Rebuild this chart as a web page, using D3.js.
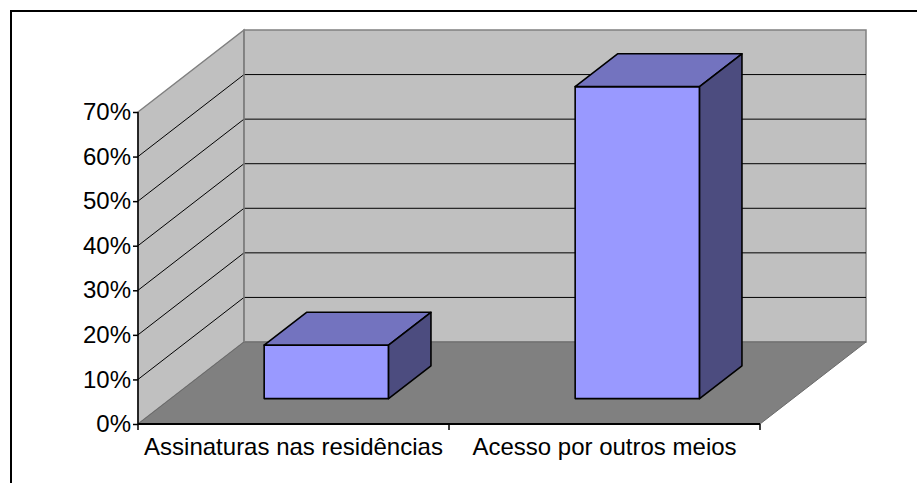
<!DOCTYPE html>
<html>
<head>
<meta charset="utf-8">
<script src="https://cdn.jsdelivr.net/npm/d3@7/dist/d3.min.js"></script>
<style>
  html, body { margin: 0; padding: 0; background: #fff; }
  svg { display: block; }
  text { font-family: "Liberation Sans", Arial, sans-serif; }
</style>
</head>
<body>
<svg id="chart" width="917" height="483"></svg>
<script>
const categories = ["Assinaturas nas residências", "Acesso por outros meios"];
const values = [0.12, 0.70];
const tickValues = [0, 0.1, 0.2, 0.3, 0.4, 0.5, 0.6, 0.7];
const tickLabels = ["0%", "10%", "20%", "30%", "40%", "50%", "60%", "70%"];

const svg = d3.select("#chart");
const W = 917, H = 483;

// outer border
svg.append("rect").attr("x", 11).attr("y", 11).attr("width", W + 10).attr("height", H + 10)
  .attr("fill", "#fff").attr("stroke", "#000").attr("stroke-width", 2);

const x0 = 138, x1 = 760;
const x = d3.scaleBand().domain(categories).range([x0, x1]).paddingInner(0).paddingOuter(0);
const y = d3.scaleLinear().domain([0, 0.7]).range([424, 112]);
const DX = 106, DY = -82; // full depth offset
const off = (p, f) => [p[0] + DX * f, p[1] + DY * f];

const g = svg.append("g");
const yMax = 0.7;
// side wall
g.append("polygon")
  .attr("points", [[x0, y(yMax)], off([x0, y(yMax)], 1), off([x0, y(0)], 1), [x0, y(0)]].join(" "))
  .attr("fill", "#C0C0C0").attr("stroke", "#808080").attr("stroke-width", 1.5);
// back wall
g.append("polygon")
  .attr("points", [off([x0, y(yMax)], 1), off([x1, y(yMax)], 1), off([x1, y(0)], 1), off([x0, y(0)], 1)].join(" "))
  .attr("fill", "#C0C0C0").attr("stroke", "#808080").attr("stroke-width", 1.5);
// floor
g.append("polygon")
  .attr("points", [[x0, y(0)], off([x0, y(0)], 1), off([x1, y(0)], 1), [x1, y(0)]].join(" "))
  .attr("fill", "#808080").attr("stroke", "#6a6a6a").attr("stroke-width", 1);

// gridlines
const grid = tickValues.filter(v => v > 0 && v < yMax);
grid.forEach(v => {
  const a = [x0, y(v)], b = off(a, 1), c = off([x1, y(v)], 1);
  g.append("polyline").attr("points", [a, b, c].join(" "))
    .attr("fill", "none").attr("stroke", "#000").attr("stroke-width", 1);
});
// redraw wall corner line
g.append("line")
  .attr("x1", x0 + DX).attr("y1", y(yMax) + DY).attr("x2", x0 + DX).attr("y2", y(0) + DY)
  .attr("stroke", "#808080").attr("stroke-width", 1.5);

// bars
const fFront = 0.31, fBack = 0.71;
const bw = x.bandwidth() * 0.4;
categories.forEach((c, i) => {
  const cx = x(c) + x.bandwidth() / 2;
  const L = cx - bw / 2, R = cx + bw / 2;
  const yb = y(0), yt = y(values[i]);
  const fl = off([L, yb], fFront), fr = off([R, yb], fFront);
  const tl = off([L, yt], fFront), tr = off([R, yt], fFront);
  const btl = off([L, yt], fBack), btr = off([R, yt], fBack), bbr = off([R, yb], fBack);
  const pol = (pts, fill) => g.append("polygon").attr("points", pts.join(" "))
    .attr("fill", fill).attr("stroke", "#000").attr("stroke-width", 1.6).attr("stroke-linejoin", "round");
  pol([fl, fr, tr, tl], "#9999FF");
  pol([tl, tr, btr, btl], "#7373BF");
  pol([fr, bbr, btr, tr], "#4C4C7F");
});

// axes
const yAxis = d3.axisLeft(y).tickValues(tickValues).tickFormat((d, i) => tickLabels[i]).tickSize(5).tickPadding(2);
const ya = svg.append("g").attr("transform", `translate(${x0},0)`).call(yAxis);
ya.select(".domain").attr("stroke", "#000").attr("stroke-width", 1.5).attr("d", `M0,${y(yMax)}V${y(0)}`);
ya.selectAll(".tick line").attr("stroke", "#000").attr("stroke-width", 1.5);
ya.selectAll(".tick text").attr("font-size", 24).attr("fill", "#000")
  .attr("font-family", "'Liberation Sans', Arial, sans-serif");

const xa = svg.append("g").attr("transform", `translate(0,${y(0)})`);
xa.append("line").attr("x1", x0).attr("x2", x1).attr("y1", 0).attr("y2", 0)
  .attr("stroke", "#000").attr("stroke-width", 2);
[x0, x(categories[1]), x1].forEach(tx => {
  xa.append("line").attr("x1", tx).attr("x2", tx).attr("y1", 0).attr("y2", 6)
    .attr("stroke", "#000").attr("stroke-width", 1.5);
});
categories.forEach(c => {
  xa.append("text").attr("x", x(c) + x.bandwidth() / 2).attr("y", 31)
    .attr("text-anchor", "middle").attr("font-size", 24)
    .attr("fill", "#000").text(c);
});
</script>
</body>
</html>
